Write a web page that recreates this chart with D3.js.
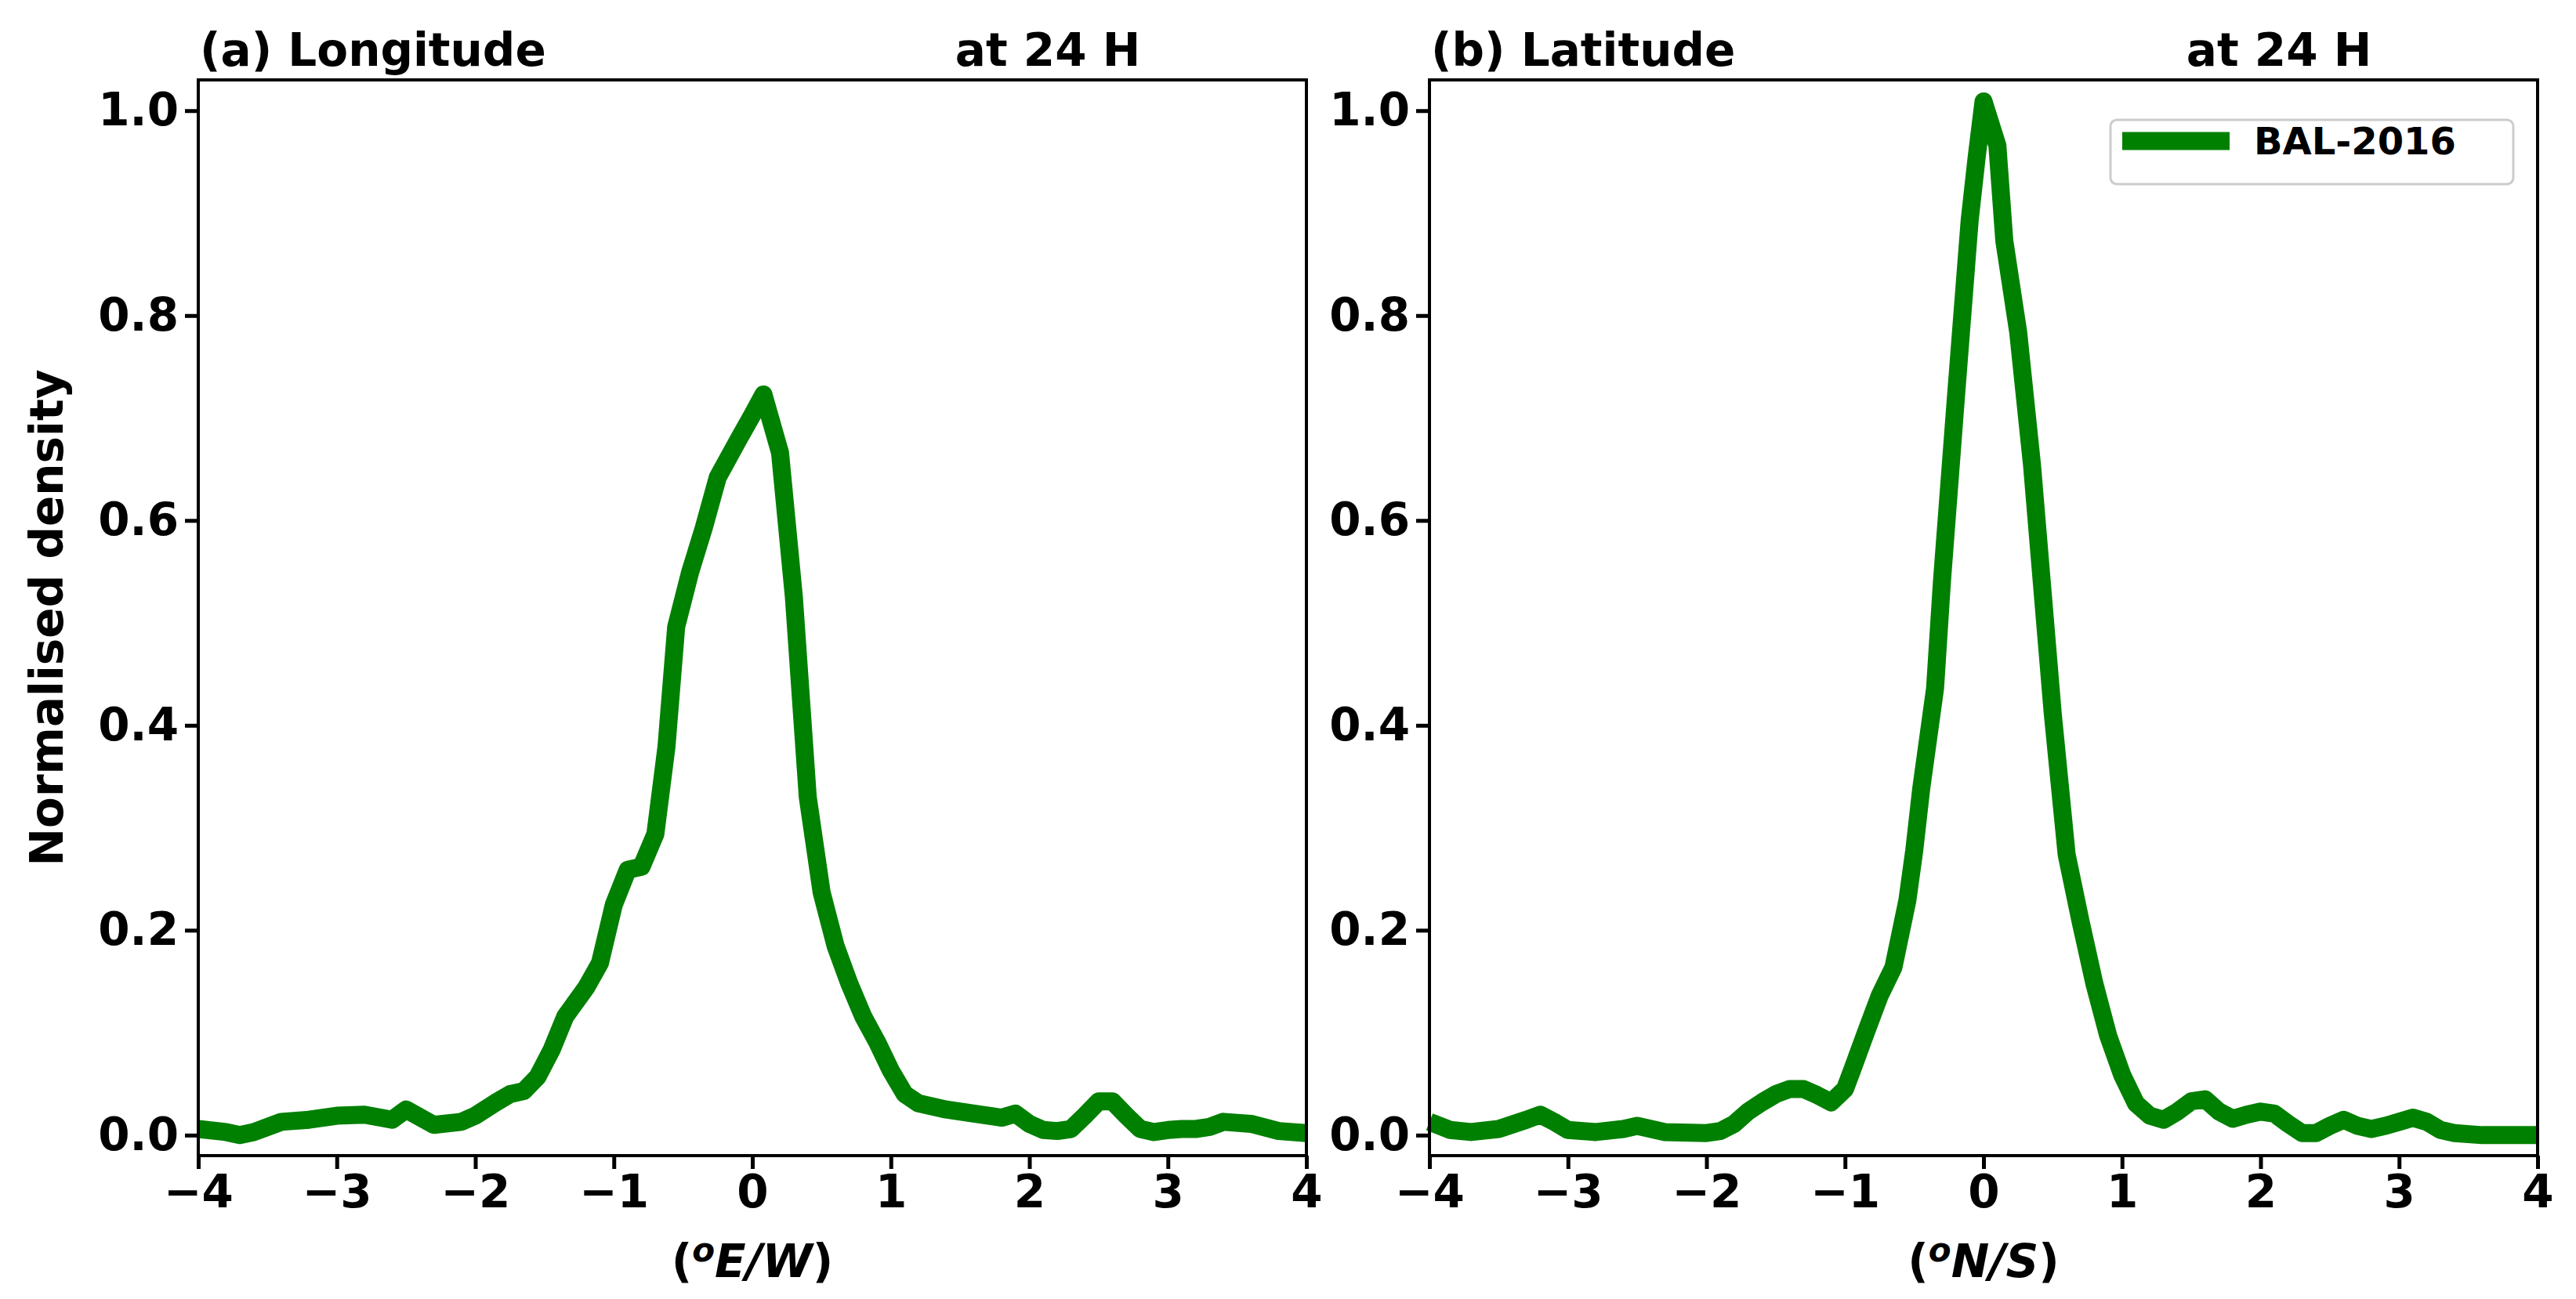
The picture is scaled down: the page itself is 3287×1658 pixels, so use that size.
<!DOCTYPE html>
<html>
<head>
<meta charset="utf-8">
<script src="https://cdn.jsdelivr.net/npm/d3@7"></script>
<style>
  body { margin: 0; background: #fff; }
  text { font-family: "DejaVu Sans", sans-serif; font-weight: bold; fill: #000; }
</style>
</head>
<body>
<svg id="chart"></svg>
<script>
// longitude error density (panel a)
const lonX = [-4,-3.8,-3.7,-3.6,-3.4,-3.2,-3.0,-2.8,-2.6,-2.5,-2.3,-2.1,-2.0,-1.85,-1.75,-1.65,-1.55,-1.45,-1.35,-1.2,-1.1,-1.0,-0.9,-0.8,-0.7,-0.62,-0.55,-0.45,-0.35,-0.25,-0.1,0.0,0.08,0.2,0.3,0.4,0.5,0.6,0.7,0.8,0.9,1.0,1.1,1.2,1.4,1.6,1.8,1.9,2.0,2.1,2.2,2.3,2.4,2.5,2.6,2.7,2.8,2.9,3.0,3.1,3.2,3.3,3.4,3.6,3.8,4.0];
const lonY = [0.006,0.003,0.0,0.003,0.013,0.015,0.019,0.02,0.015,0.025,0.01,0.013,0.019,0.032,0.04,0.043,0.057,0.083,0.116,0.144,0.168,0.225,0.259,0.262,0.294,0.379,0.496,0.549,0.593,0.642,0.679,0.703,0.723,0.666,0.525,0.33,0.237,0.185,0.148,0.116,0.091,0.063,0.04,0.031,0.025,0.021,0.017,0.021,0.011,0.005,0.004,0.006,0.019,0.033,0.033,0.019,0.006,0.003,0.005,0.006,0.006,0.008,0.013,0.011,0.004,0.002];
// latitude error density (panel b)
const latX = [-4,-3.85,-3.7,-3.5,-3.3,-3.2,-3.1,-3.0,-2.8,-2.6,-2.5,-2.3,-2.0,-1.9,-1.8,-1.7,-1.6,-1.5,-1.4,-1.3,-1.2,-1.1,-1.0,-0.95,-0.85,-0.75,-0.65,-0.55,-0.5,-0.45,-0.35,-0.3,-0.2,-0.1,-0.05,0.0,0.1,0.15,0.25,0.35,0.45,0.5,0.6,0.7,0.8,0.9,1.0,1.1,1.2,1.3,1.4,1.5,1.6,1.7,1.8,1.9,2.0,2.1,2.2,2.3,2.4,2.5,2.6,2.7,2.8,2.9,3.0,3.1,3.2,3.3,3.4,3.6,3.8,4.0];
const latY = [0.013,0.005,0.003,0.006,0.015,0.02,0.013,0.005,0.003,0.006,0.009,0.003,0.002,0.004,0.011,0.023,0.032,0.04,0.045,0.045,0.039,0.032,0.045,0.063,0.1,0.136,0.164,0.229,0.278,0.338,0.436,0.541,0.719,0.893,0.954,1.009,0.966,0.873,0.784,0.654,0.492,0.411,0.274,0.209,0.148,0.097,0.059,0.031,0.019,0.015,0.023,0.033,0.035,0.023,0.016,0.02,0.023,0.021,0.011,0.002,0.002,0.009,0.015,0.009,0.006,0.009,0.013,0.017,0.013,0.005,0.002,0.0,0.0,0.0];

const xTicks = [-4,-3,-2,-1,0,1,2,3,4];
const yTicks = [0.0,0.2,0.4,0.6,0.8,1.0];
const seriesName = "BAL-2016";

const W = 3287, H = 1658;
const svg = d3.select("#chart").attr("width", W).attr("height", H);

const plotTop = 102, plotBottom = 1475, pw = 1414;
const panels = [
  { left: 253, xs: lonX, ys: lonY, title: "(a) Longitude", unit: "E/W", legend: false, yLabel: true },
  { left: 1824, xs: latX, ys: latY, title: "(b) Latitude", unit: "N/S", legend: true, yLabel: false }
];

const y = d3.scaleLinear().domain([-0.02, 1.03]).range([plotBottom, plotTop]);

panels.forEach(p => {
  const x = d3.scaleLinear().domain([-4, 4]).range([p.left, p.left + pw]);
  const g = svg.append("g");

  const line = d3.line().x((d, i) => x(p.xs[i])).y(d => y(d));
  g.append("path")
    .datum(p.ys)
    .attr("d", line)
    .attr("fill", "none")
    .attr("stroke", "#008000")
    .attr("stroke-width", 23)
    .attr("stroke-linejoin", "round");

  g.append("rect")
    .attr("x", p.left).attr("y", plotTop)
    .attr("width", pw).attr("height", plotBottom - plotTop)
    .attr("fill", "none").attr("stroke", "#000").attr("stroke-width", 4);

  const xa = g.append("g").attr("transform", `translate(0,${plotBottom})`)
    .call(d3.axisBottom(x).tickValues(xTicks).tickSize(17).tickPadding(8)
      .tickFormat(d => d < 0 ? "\u2212" + Math.abs(d) : d));
  const ya = g.append("g").attr("transform", `translate(${p.left},0)`)
    .call(d3.axisLeft(y).tickValues(yTicks).tickSize(17).tickPadding(8).tickFormat(d3.format(".1f")));
  [xa, ya].forEach(a => {
    a.select(".domain").remove();
    a.selectAll("line").attr("stroke-width", 5);
    a.selectAll("text").style("font-size", "58px").style("font-family", "DejaVu Sans").style("font-weight", "bold");
  });

  g.append("text").attr("x", p.left + 2).attr("y", 84).style("font-size", "58px").text(p.title);
  g.append("text").attr("x", p.left + pw * 0.683).attr("y", 84).style("font-size", "58px").text("at 24 H");

  const xl = g.append("text").attr("x", p.left + pw / 2).attr("y", 1630)
    .attr("text-anchor", "middle").style("font-size", "58px");
  xl.append("tspan").text("(");
  xl.append("tspan").style("font-style", "italic").attr("dy", -20).style("font-size", "42px").text("o");
  xl.append("tspan").style("font-style", "italic").attr("dy", 20).text(p.unit);
  xl.append("tspan").text(")");

  if (p.yLabel) {
    g.append("text").attr("transform", `translate(80,${(plotTop + plotBottom) / 2}) rotate(-90)`)
      .attr("text-anchor", "middle").style("font-size", "58px").text("Normalised density");
  }

  if (p.legend) {
    const lg = g.append("g");
    lg.append("rect").attr("x", 2693).attr("y", 153).attr("width", 514).attr("height", 82)
      .attr("rx", 8).attr("fill", "#fff").attr("stroke", "#ccc").attr("stroke-width", 3);
    lg.append("line").attr("x1", 2708).attr("x2", 2845).attr("y1", 180).attr("y2", 180)
      .attr("stroke", "#008000").attr("stroke-width", 23);
    lg.append("text").attr("x", 2876).attr("y", 197).style("font-size", "48px").text(seriesName);
  }
});
</script>
</body>
</html>
